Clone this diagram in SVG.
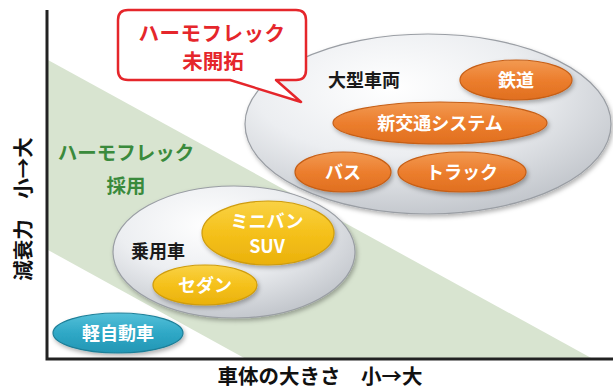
<svg xmlns="http://www.w3.org/2000/svg" width="613" height="390" viewBox="0 0 613 390">
<defs>
<style>
.t{font-family:"Noto Sans CJK JP","Noto Sans",sans-serif;font-weight:bold;}
.w{fill:#ffffff;text-anchor:middle;font-size:18px;}
.k{fill:#1a1a1a;font-size:18px;}
.axis{stroke:#222;stroke-width:3;fill:none;}
.grp{fill:url(#gGrey);stroke:#9a9ea4;stroke-width:1.2;filter:url(#sh);}
.org{fill:url(#gOrange);stroke:#c65f17;stroke-width:1.2;filter:url(#sh);}
.yel{fill:url(#gYellow);stroke:#cf9c0c;stroke-width:1.2;filter:url(#sh);}
.blu{fill:url(#gBlue);stroke:#1f7f98;stroke-width:1.2;filter:url(#sh);}
</style>
<radialGradient id="gGrey" cx="0.4" cy="0.3" r="0.75">
<stop offset="0" stop-color="#ffffff"/>
<stop offset="0.5" stop-color="#eceef1"/>
<stop offset="1" stop-color="#bfc3c9"/>
</radialGradient>
<linearGradient id="gOrange" x1="0" y1="0" x2="0" y2="1">
<stop offset="0" stop-color="#f29a52"/>
<stop offset="0.5" stop-color="#ec7e2e"/>
<stop offset="1" stop-color="#e06f1f"/>
</linearGradient>
<linearGradient id="gYellow" x1="0" y1="0" x2="0" y2="1">
<stop offset="0" stop-color="#f9d245"/>
<stop offset="0.5" stop-color="#f5c11b"/>
<stop offset="1" stop-color="#eab10c"/>
</linearGradient>
<linearGradient id="gBlue" x1="0" y1="0" x2="0" y2="1">
<stop offset="0" stop-color="#55c0d9"/>
<stop offset="0.5" stop-color="#2fa8c6"/>
<stop offset="1" stop-color="#2396b4"/>
</linearGradient>
<filter id="sh" x="-10%" y="-10%" width="125%" height="135%">
<feDropShadow dx="1.5" dy="2.5" stdDeviation="2" flood-color="#000" flood-opacity="0.3"/>
</filter>
</defs>
<rect width="613" height="390" fill="#ffffff"/>
<g id="band">
<polygon points="48,60 593,359 246,359 48,250" fill="#d8e4d0"/>
</g>
<g id="axes">
<polyline class="axis" points="47,10 47,359 613,359"/>
</g>
<g id="labels">
<text class="t" font-size="20.5" fill="#111" text-anchor="middle" x="320" y="384">車体の大きさ　小→大</text>
<text class="t" font-size="20.5" fill="#111" text-anchor="middle" transform="translate(31,209) rotate(-90)">減衰力　小→大</text>
<text class="t" font-size="19.5" fill="#3a8a3c" text-anchor="middle" x="126" y="160">ハーモフレック</text>
<text class="t" font-size="19.5" fill="#3a8a3c" text-anchor="middle" x="126" y="193">採用</text>
</g>
<g id="large">
<ellipse class="grp" cx="428" cy="124" rx="183" ry="90"/>
<text class="t k" x="328" y="87">大型車両</text>
</g>
<g id="tetsudo">
<ellipse class="org" cx="516" cy="80" rx="56" ry="20"/>
<text class="t w" x="516" y="87">鉄道</text>
</g>
<g id="shinkotsu">
<ellipse class="org" cx="440" cy="123" rx="107" ry="21"/>
<text class="t w" x="440" y="130">新交通システム</text>
</g>
<g id="bus">
<ellipse class="org" cx="343" cy="172" rx="48" ry="20"/>
<text class="t w" x="343" y="179">バス</text>
</g>
<g id="truck">
<ellipse class="org" cx="462" cy="172" rx="64" ry="20"/>
<text class="t w" x="462" y="179">トラック</text>
</g>
<g id="passenger">
<ellipse class="grp" cx="234" cy="252" rx="121" ry="66"/>
<text class="t k" x="131" y="258" font-size="17">乗用車</text>
</g>
<g id="minivan">
<ellipse class="yel" cx="268" cy="233" rx="66" ry="32"/>
<text class="t w" x="267" y="228" font-size="17">ミニバン</text>
<text class="t w" x="267" y="253" font-size="17">SUV</text>
</g>
<g id="sedan">
<ellipse class="yel" cx="205" cy="285" rx="52" ry="20"/>
<text class="t w" x="205" y="292">セダン</text>
</g>
<g id="kei">
<ellipse class="blu" cx="118" cy="333" rx="65" ry="20"/>
<text class="t w" x="118" y="340">軽自動車</text>
</g>
<g id="bubble">
<path d="M128,10 H296 Q306,10 306,20 V70 Q306,80 296,80 H276 L301,102 L230,80 H128 Q118,80 118,70 V20 Q118,10 128,10 Z" fill="#ffffff" stroke="#e5262b" stroke-width="2.5" stroke-linejoin="round"/>
<text class="t" font-size="20.5" fill="#e5262b" text-anchor="middle" x="212" y="41" letter-spacing="0.5">ハーモフレック</text>
<text class="t" font-size="20.5" fill="#e5262b" text-anchor="middle" x="213" y="69">未開拓</text>
</g>
</svg>
